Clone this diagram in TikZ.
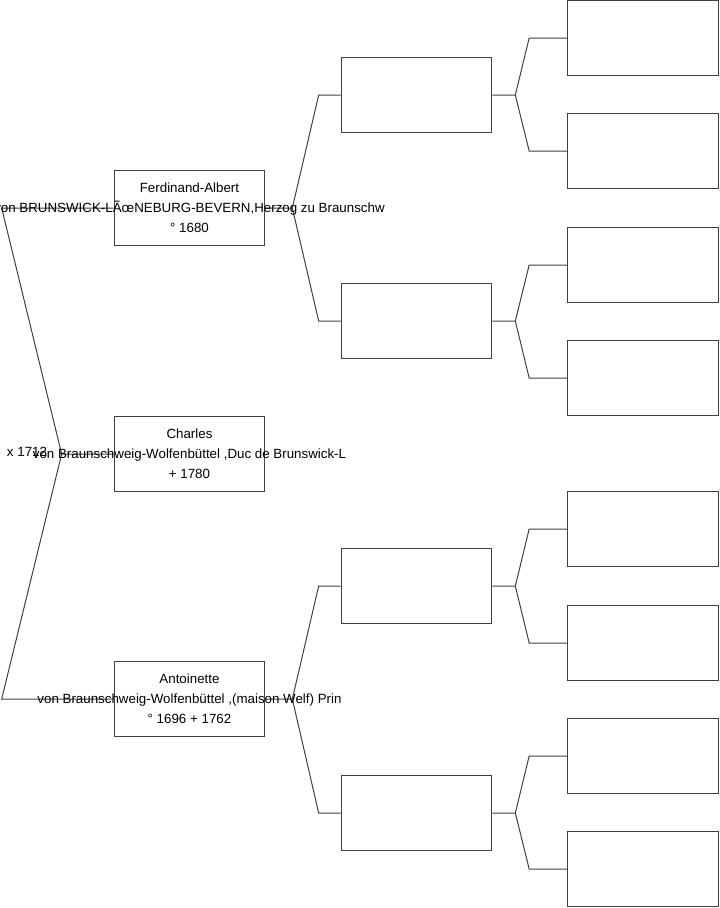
\documentclass[tikz,border=0pt]{standalone}
\usepackage{fontspec}
\setmainfont{Liberation Sans}
\usetikzlibrary{positioning,calc}
\tikzset{
  personbox/.style={draw=black!75,line width=0.75pt,fill=white,
    minimum width=113pt,minimum height=56.5pt,inner sep=0pt},
  persontext/.style={font=\fontsize{10}{15}\selectfont,align=center,inner sep=0pt},
  datetext/.style={font=\fontsize{10}{15}\selectfont,inner sep=0pt},
  branchline/.style={draw=black!75,line width=0.75pt}
}

\begin{document}
\begin{tikzpicture}[x=0.75pt,y=-0.75pt]
  \useasboundingbox (0,0) rectangle (719,908);
  % first generation
  \node[personbox] (ferd) at (189.5,208) {};
  \node[personbox] (charles) at (189.5,454) {};
  \node[personbox] (anto) at (189.5,699) {};
  % grandparents
  \node[personbox] (ff) at (416.5,95) {};
  \node[personbox] (fm) at (416.5,321) {};
  \node[personbox] (af) at (416.5,586) {};
  \node[personbox] (am) at (416.5,813) {};
  % great-grandparents
  \node[personbox] (fff) at (643,38) {};
  \node[personbox] (ffm) at (643,151) {};
  \node[personbox] (fmf) at (643,265) {};
  \node[personbox] (fmm) at (643,378) {};
  \node[personbox] (aff) at (643,529) {};
  \node[personbox] (afm) at (643,643) {};
  \node[personbox] (amf) at (643,756) {};
  \node[personbox] (amm) at (643,869) {};
  % forks
  \coordinate (cv) at ([xshift=-39pt]charles.west);
  \coordinate (fv) at ([xshift=20.25pt]ferd.east);
  \coordinate (av) at ([xshift=20.25pt]anto.east);
  \coordinate (ffv) at ([xshift=17.25pt]ff.east);
  \coordinate (fmv) at ([xshift=17.25pt]fm.east);
  \coordinate (afv) at ([xshift=17.25pt]af.east);
  \coordinate (amv) at ([xshift=17.25pt]am.east);
  \draw[branchline] (charles.west) -- (cv) -- ([xshift=-84pt]ferd.west) -- (ferd.west);
  \draw[branchline] (cv) -- ([xshift=-84pt]anto.west) -- (anto.west);
  \draw[branchline] (ferd.east) -- (fv) -- ([xshift=-16.5pt]ff.west) -- (ff.west);
  \draw[branchline] (fv) -- ([xshift=-16.5pt]fm.west) -- (fm.west);
  \draw[branchline] (anto.east) -- (av) -- ([xshift=-16.5pt]af.west) -- (af.west);
  \draw[branchline] (av) -- ([xshift=-16.5pt]am.west) -- (am.west);
  \draw[branchline] (ff.east) -- (ffv) -- ([xshift=-28.5pt]fff.west) -- (fff.west);
  \draw[branchline] (ffv) -- ([xshift=-28.5pt]ffm.west) -- (ffm.west);
  \draw[branchline] (fm.east) -- (fmv) -- ([xshift=-28.5pt]fmf.west) -- (fmf.west);
  \draw[branchline] (fmv) -- ([xshift=-28.5pt]fmm.west) -- (fmm.west);
  \draw[branchline] (af.east) -- (afv) -- ([xshift=-28.5pt]aff.west) -- (aff.west);
  \draw[branchline] (afv) -- ([xshift=-28.5pt]afm.west) -- (afm.west);
  \draw[branchline] (am.east) -- (amv) -- ([xshift=-28.5pt]amf.west) -- (amf.west);
  \draw[branchline] (amv) -- ([xshift=-28.5pt]amm.west) -- (amm.west);
  % texts
  \node[persontext] (ferdtxt) at (ferd.center)
    {Ferdinand-Albert\\von BRUNSWICK-LÃœNEBURG-BEVERN,Herzog zu Braunschw\\° 1680};
  \node[persontext] (charlestxt) at (charles.center)
    {Charles\\von Braunschweig-Wolfenbüttel ,Duc de Brunswick-L\\+ 1780};
  \node[persontext] (antotxt) at (anto.center)
    {Antoinette\\von Braunschweig-Wolfenbüttel ,(maison Welf) Prin\\° 1696 + 1762};
  \node[datetext] (wed) at (27,452) {x 1712};
\end{tikzpicture}
\end{document}
